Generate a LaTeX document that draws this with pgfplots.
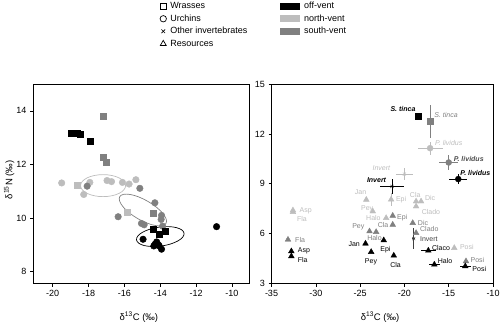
\documentclass[border=0pt]{standalone}
\usepackage{pgfplots}
\pgfplotsset{compat=1.18}
\usepackage{fontspec}
\setmainfont{Liberation Sans}
\definecolor{offc}{gray}{0}
\definecolor{northc}{gray}{0.74}
\definecolor{southc}{gray}{0.5}
\pgfplotsset{
  common/.style={scale only axis, tick align=outside, tick pos=left,
    major tick length=3pt, tick style={black, line width=0.6pt},
    axis line style={line width=0.8pt},
    ticklabel style={font=\fontsize{9}{10}\selectfont},
    /pgf/number format/assume math mode=true,
    label style={font=\fontsize{9.5}{11}\selectfont},
    xlabel style={at={(axis description cs:0.49,-0.168)}, anchor=center},
    legend style={draw=none, fill=none, inner sep=0pt,
      font=\fontsize{9}{10}\selectfont,
      nodes={text height=6.5pt, text depth=1.5pt, inner ysep=2.25pt, inner xsep=2pt},
      cells={anchor=west}, row sep=0pt},
  },
  eb/.style={error bars/.cd, x dir=both, x explicit, y dir=both, y explicit,
    error mark=none, error bar style={line width=0.8pt, color=#1}},
}
\tikzset{lab/.style={font=\fontsize{7}{8}\selectfont, inner sep=0.5pt}}
\begin{document}
\begin{tikzpicture}
\useasboundingbox (0pt,0pt) rectangle (500pt,322pt);
% ---------------- Panel (a)
\begin{axis}[common, at={(33pt,38.5pt)}, anchor=south west,
  width=216pt, height=199.5pt,
  xmin=-21.1, xmax=-9.05, ymin=7.56, ymax=15,
  xtick={-20,-18,...,-10}, ytick={8,10,12,14},
  xlabel={δ\textsuperscript{13}C (‰)},
  ylabel={δ\textsuperscript{15}N (‰)},
  ylabel style={at={(axis description cs:-0.11,0.52)}, anchor=center},
  legend style={at={(0.579,1.422)}, anchor=north west},
  legend image code/.code={\path[draw=none,fill=none] (0pt,0pt) -- (10pt,0pt);\draw[mark repeat=2,mark phase=2,#1] plot coordinates {(0pt,0pt)(5pt,0pt)(10pt,0pt)};},
]
\addlegendimage{only marks, mark=square, mark size=3pt, black, mark options={line width=0.7pt}}
\addlegendentry{Wrasses}
\addlegendimage{only marks, mark=o, mark size=3.2pt, black, mark options={line width=0.7pt}}
\addlegendentry{Urchins}
\addlegendimage{only marks, mark=x, mark size=2.6pt, black, mark options={line width=0.7pt}}
\addlegendentry{Other invertebrates}
\addlegendimage{only marks, mark=triangle, mark size=3.4pt, black, mark options={line width=0.7pt}}
\addlegendentry{Resources}
% north-vent
\addplot[forget plot, only marks, mark=*, mark size=3.3pt, color=northc] coordinates {
(-19.5,11.31) (-18.27,10.88) (-17.93,11.33) (-16.97,11.4) (-16.72,11.36)
(-16.11,11.33) (-15.74,11.27) (-15.36,11.43)};
\addplot[forget plot, only marks, mark=square*, mark size=3pt, color=northc] coordinates {
(-18.64,11.24) (-15.85,10.22)};
% south-vent
\addplot[forget plot, only marks, mark=*, mark size=3.3pt, color=southc] coordinates {
(-18.08,11.19) (-15.14,11.11) (-14.3,10.57) (-16.35,10.05) (-15.05,9.8)
(-14.9,9.75) (-13.93,10.1) (-13.87,9.7) (-13.95,9.95)};
\addplot[forget plot, only marks, mark=square*, mark size=3pt, color=southc] coordinates {
(-17.2,13.8) (-17.2,12.26) (-17.0,12.1) (-14.4,10.2)};
% off-vent
\addplot[forget plot, only marks, mark=*, mark size=3.3pt, color=offc] coordinates {
(-14.96,9.21) (-14.2,9.11) (-14.3,9.02) (-14.36,8.96) (-14.06,8.96)
(-13.93,8.84) (-14.1,9.0) (-10.86,9.68)};
\addplot[forget plot, only marks, mark=square*, mark size=3pt, color=offc] coordinates {
(-18.95,13.15) (-18.65,13.15) (-18.45,13.12) (-17.93,12.85)
(-14.4,9.6) (-14.06,9.4) (-13.7,9.5)};
% ellipses
\draw[northc, line width=0.7pt] (axis cs:-17.19,11.21) ellipse [x radius=22.5pt, y radius=11pt];
\draw[southc, line width=0.7pt, rotate around={-30:(axis cs:-14.97,10.3)}] (axis cs:-14.97,10.3) ellipse [x radius=26.7pt, y radius=10pt];
\draw[offc, line width=0.7pt, rotate around={8:(axis cs:-14.0,9.31)}] (axis cs:-14.0,9.31) ellipse [x radius=24pt, y radius=9.5pt];
\node[anchor=west, font=\fontsize{11}{12}\selectfont, inner sep=0pt] at (rel axis cs:0.032,1.06) {(a) \underline{Consumer populations}};
\end{axis}
% ---------------- Panel (b)
\begin{axis}[common, at={(271.5pt,38.5pt)}, anchor=south west,
  width=221.5pt, height=199.5pt,
  xmin=-35, xmax=-10, ymin=3, ymax=15,
  xtick={-35,-30,...,-10}, ytick={3,6,...,15},
  xlabel={δ\textsuperscript{13}C (‰)},
  legend style={at={(0.0384,1.422)}, anchor=north west},
  legend image code/.code={\fill[#1, draw=none] (0pt,-3.5pt) rectangle (20pt,3.5pt);\path[draw=none,fill=none] (0pt,0pt) -- (22pt,0pt);},
]
\addlegendimage{fill=offc}\addlegendentry{off-vent}
\addlegendimage{fill=northc}\addlegendentry{north-vent}
\addlegendimage{fill=southc}\addlegendentry{south-vent}
% ---- north-vent
\addplot[forget plot, only marks, mark=triangle*, mark size=3.3pt, color=northc, eb=northc]
 table[x=x,y=y,x error=ex,y error=ey] {
x y ex ey
-32.58 7.4 0 0
-32.58 7.3 0 0
-24.3 8.04 0 0
-23.57 7.34 0 0
-22.06 6.94 0 0
-21.5 8.05 0 0.4
-18.68 7.94 0 0
-18.12 7.94 0 0
-18.68 7.64 0 0
-14.37 5.14 0 0
};
\addplot[forget plot, only marks, mark=*, mark size=3pt, color=northc, eb=northc]
 table[x=x,y=y,x error=ex,y error=ey] {
x y ex ey
-17.1 11.14 1.4 0.4
};
\addplot[forget plot, only marks, mark=x, mark size=2.2pt, color=northc, eb=northc]
 table[x=x,y=y,x error=ex,y error=ey] {
x y ex ey
-20.0 9.58 1.0 0.35
};
% ---- south-vent
\addplot[forget plot, only marks, mark=triangle*, mark size=3.3pt, color=southc, eb=southc]
 table[x=x,y=y,x error=ex,y error=ey] {
x y ex ey
-33.14 5.64 0 0
-23.94 6.14 0 0
-23.19 6.1 0 0
-21.32 6.54 0 0
-21.32 7.08 0 0
-19.06 6.64 0 0
-18.68 6.04 0 0
-13.05 4.34 0 0
};
\addplot[forget plot, only marks, mark=square*, mark size=3pt, color=southc, eb=southc]
 table[x=x,y=y,x error=ex,y error=ey] {
x y ex ey
-17.1 12.74 0.1 1.0
};
\addplot[forget plot, only marks, mark=*, mark size=3pt, color=southc, eb=southc]
 table[x=x,y=y,x error=ex,y error=ey] {
x y ex ey
-15.0 10.28 1.1 0.45
};
\addplot[forget plot, only marks, mark=x, mark size=2.2pt, color=black!75, eb=black!75]
 table[x=x,y=y,x error=ex,y error=ey] {
x y ex ey
-18.95 5.7 0.2 0.65
};
% ---- off-vent
\addplot[forget plot, only marks, mark=triangle*, mark size=3.3pt, color=offc, eb=offc]
 table[x=x,y=y,x error=ex,y error=ey] {
x y ex ey
-32.76 4.94 0 0
-32.76 4.64 0 0
-24.39 5.4 0 0
-23.75 4.9 0 0
-22.33 5.6 0 0
-21.2 4.68 0 0
-17.3 4.98 0.85 0.1
-16.62 4.14 0.6 0.1
-13.13 4.04 0.6 0.1
};
\addplot[forget plot, only marks, mark=square*, mark size=3pt, color=offc, eb=offc]
 table[x=x,y=y,x error=ex,y error=ey] {
x y ex ey
-18.42 13.08 0.35 0.12
};
\addplot[forget plot, only marks, mark=*, mark size=3pt, color=offc, eb=offc]
 table[x=x,y=y,x error=ex,y error=ey] {
x y ex ey
-13.92 9.28 1.0 0.3
};
\addplot[forget plot, only marks, mark=x, mark size=2.2pt, color=offc, eb=offc]
 table[x=x,y=y,x error=ex,y error=ey] {
x y ex ey
-21.4 8.84 1.35 0.47
};
% ---- labels north
\node[lab, northc, anchor=west] at (axis cs:-16.6,11.48) {\itshape P. lividus};
\node[lab, northc] at (axis cs:-22.6,9.94) {\itshape Invert};
\node[lab, northc, anchor=west] at (axis cs:-31.9,7.4) {Asp};
\node[lab, northc, anchor=west] at (axis cs:-32.2,6.88) {Fla};
\node[lab, northc] at (axis cs:-24.95,8.48) {Jan};
\node[lab, northc] at (axis cs:-24.2,7.48) {Pey};
\node[lab, northc] at (axis cs:-23.5,6.94) {Halo};
\node[lab, northc] at (axis cs:-20.37,8.04) {Epi};
\node[lab, northc] at (axis cs:-18.78,8.34) {Cla};
\node[lab, northc] at (axis cs:-17.1,8.14) {Dic};
\node[lab, northc, anchor=west] at (axis cs:-18.12,7.3) {Clado};
\node[lab, northc, anchor=west] at (axis cs:-13.8,5.18) {Posi};
% ---- labels south
\node[lab, southc, anchor=west] at (axis cs:-16.7,13.14) {\itshape S. tinca};
\node[lab, black!70, anchor=west] at (axis cs:-14.5,10.48) {\bfseries\itshape P. lividus};
\node[lab, southc, anchor=west] at (axis cs:-32.4,5.64) {Fla};
\node[lab, southc] at (axis cs:-25.2,6.38) {Pey};
\node[lab, southc] at (axis cs:-23.38,5.74) {Halo};
\node[lab, southc] at (axis cs:-22.4,6.54) {Cla};
\node[lab, southc, anchor=west] at (axis cs:-20.9,6.95) {Epi};
\node[lab, southc, anchor=west] at (axis cs:-18.55,6.64) {Dic};
\node[lab, southc, anchor=west] at (axis cs:-18.3,6.28) {Clado};
\node[lab, black!75, anchor=west] at (axis cs:-18.31,5.68) {Invert};
\node[lab, southc, anchor=west] at (axis cs:-12.6,4.44) {Posi};
% ---- labels off
\node[lab, offc, anchor=east] at (axis cs:-18.68,13.48) {\bfseries\itshape S. tinca};
\node[lab, offc, anchor=west] at (axis cs:-13.75,9.65) {\bfseries\itshape P. lividus};
\node[lab, offc, anchor=east] at (axis cs:-21.99,9.24) {\bfseries\itshape Invert};
\node[lab, offc, anchor=west] at (axis cs:-32.1,4.95) {Asp};
\node[lab, offc, anchor=west] at (axis cs:-32.1,4.44) {Fla};
\node[lab, offc, anchor=east] at (axis cs:-24.95,5.38) {Jan};
\node[lab, offc] at (axis cs:-23.77,4.28) {Pey};
\node[lab, offc] at (axis cs:-22.14,5.04) {Epi};
\node[lab, offc] at (axis cs:-21.0,4.14) {Cla};
\node[lab, offc, anchor=west] at (axis cs:-16.95,5.14) {Claco};
\node[lab, offc, anchor=west] at (axis cs:-16.3,4.34) {Halo};
\node[lab, offc, anchor=west] at (axis cs:-12.4,3.88) {Posi};
\node[anchor=west, font=\fontsize{11}{12}\selectfont, inner sep=0pt] at (rel axis cs:0.038,1.06) {(b) \underline{Consumers and resources}};
\end{axis}
\end{tikzpicture}
\end{document}
